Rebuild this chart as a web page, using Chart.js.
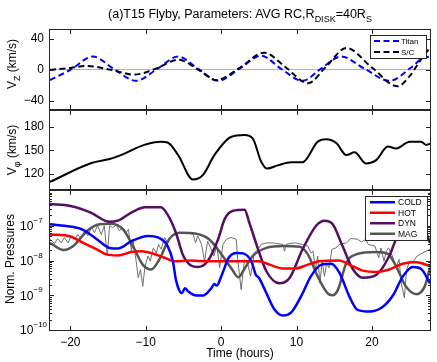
<!DOCTYPE html>
<html>
<head>
<meta charset="utf-8">
<script src="https://cdn.jsdelivr.net/npm/chart.js@4.4.1/dist/chart.umd.min.js"></script>
<style>
  body { margin: 0; background: #fff; font-family: "Liberation Sans", Arial, sans-serif; }
  #wrap { position: relative; width: 437px; height: 362px; overflow: hidden; }
  canvas { position: absolute; left: 0; }
  .title { position: absolute; left: 50px; top: 7px; width: 380px; text-align: center; font-size: 12.5px; line-height: 15px; white-space: nowrap; }
  .ylab { position: absolute; font-size: 12px; line-height: 14px; white-space: nowrap; transform: translate(-50%, -50%) rotate(-90deg); }
  .sb { font-size: 9px; position: relative; top: 4px; }
</style>
</head>
<body>
<div id="wrap">
  <canvas id="vz" width="437" height="110" style="top:0"></canvas>
  <canvas id="vphi" width="437" height="80" style="top:110px"></canvas>
  <canvas id="press" width="437" height="172" style="top:190px"></canvas>
  <div class="title">(a)T15 Flyby, Parameters: AVG RC,R<span class="sb">DISK</span>=40R<span class="sb">S</span></div>
  <div class="ylab" style="left:12px;top:64px">V<span class="sb">Z</span> (km/s)</div>
  <div class="ylab" style="left:12px;top:150px">V<span class="sb">φ</span> (km/s)</div>
  <div class="ylab" style="left:10px;top:259px">Norm. Pressures</div>
</div>
<script>
// tick values
const timeTicks = [-20, -10, 0, 10, 20];
const vzTicks = [-40, 0, 40];
const vphiTicks = [120, 150, 180];
const pressTicks = [1e-10, 1e-9, 1e-8, 1e-7];

// V_Z (km/s)
const titanT = [-22.7, -20.0, -17.0, -14.2, -11.3, -8.5, -5.7, -3.0, -0.4, 2.5, 5.3, 8.0, 10.8, 13.3, 15.9, 19.1, 22.3, 25.2, 26.7, 27.7];
const titanVz = [-13, 0, 17, 1, -14, 1, 17, 1, -14, 2, 18, 1, -14, 2, 17, 1, -14, 3, 15, 17];
const scT = [-22.7, -20.0, -17.7, -14.6, -11.5, -8.8, -5.6, -3.0, -0.6, 2.5, 5.7, 8.6, 11.5, 14.0, 16.6, 20.0, 23.4, 25.0, 26.0, 27.0, 27.7];
const scVz = [0, 2.5, 5, 0, -6, 1, 13, 0, -13, 3, 22, 3, -17, 5, 28, 3, -21, -8, 6, 20, 28];

// V_phi (km/s)
const vphiT = [-22.7, -17.2, -14.8, -13.3, -10.2, -8.0, -7.1, -5.7, -3.75, -2.4, -0.9, 1.3, 3.1, 4.2, 5.3, 6.1, 7.5, 9.3, 10.8, 12.8, 13.9, 15.3, 16.6, 17.7, 19.2, 20.6, 22.1, 23.2, 25.0, 26.5, 27.2, 27.7];
const vphi = [110, 134, 139, 144, 157, 161, 160, 144, 113, 119, 144, 167, 169.5, 165, 136, 127, 131, 135, 135, 161, 164, 159, 144, 147.5, 133.5, 138, 155, 152.5, 161, 161, 157, 158.5];

// normalised pressures
const coldT = [-22.7, -20.0, -18.3, -16.5, -14.8, -13.7, -11.9, -9.7, -8.4, -7.1, -6.4, -6.0, -5.5, -5.2, -4.8, -4.4, -3.3, -2.4, -1.3, -0.9, -0.6, 0.1, 1.0, 2.1, 2.9, 4.0, 4.6, 5.0, 6.0, 7.1, 8.2, 9.3, 10.6, 11.9, 13.3, 14.6, 15.7, 17.0, 18.1, 19.7, 21.4, 22.8, 24.1, 25.4, 26.5, 27.7];
const cold = [1.1e-7, 9.5e-8, 7.6e-8, 4.1e-8, 2.3e-8, 2.2e-8, 3.6e-8, 5.1e-8, 4.6e-8, 2.6e-8, 9.5e-9, 2.8e-9, 1.3e-9, 1.15e-9, 1.6e-9, 1.3e-9, 9.8e-10, 9.8e-10, 1.6e-9, 2.1e-9, 1.9e-9, 3.9e-9, 1.2e-8, 1.65e-8, 1.6e-8, 9.5e-9, 3.9e-9, 3.2e-9, 1.15e-9, 3.8e-10, 2.6e-10, 3.2e-10, 9.3e-10, 3.5e-9, 7.6e-9, 8.1e-9, 4.4e-9, 9.3e-10, 3.8e-10, 3.4e-10, 4.6e-10, 1.0e-9, 3.5e-9, 6.5e-9, 5.8e-9, 2.2e-9];
const hotT = [-22.7, -20.0, -18.3, -16.5, -15.2, -13.7, -11.9, -10.6, -9.3, -7.5, -6.2, -4.0, -1.8, 3.4, 5.0, 6.4, 8.2, 9.9, 11.5, 13.0, 15.7, 17.0, 18.8, 20.6, 22.3, 24.1, 25.9, 27.7];
const hot = [5.6e-8, 4.9e-8, 3.2e-8, 2.1e-8, 1.5e-8, 1.4e-8, 1.75e-8, 1.85e-8, 1.65e-8, 1.2e-8, 9.5e-9, 1.0e-8, 9.5e-9, 9.5e-9, 9.5e-9, 7.6e-9, 5.9e-9, 5.9e-9, 7.6e-9, 9.5e-9, 1.0e-8, 7.6e-9, 5.1e-9, 4.7e-9, 5.5e-9, 8.1e-9, 8.9e-9, 6.9e-9];
const dynT = [-22.7, -20.0, -17.3, -14.8, -13.7, -11.9, -10.1, -8.0, -7.1, -6.0, -5.1, -4.0, -3.1, -1.8, -0.4, 0.46, 1.57, 3.1, 3.75, 4.9, 6.0, 7.7, 9.1, 10.8, 12.6, 13.7, 14.8, 16.1, 17.5, 18.8, 20.6, 22.3, 23.2, 24.8, 26.5, 27.1, 27.7];
const dyn = [4.2e-7, 3.7e-7, 2.4e-7, 1.3e-7, 1.4e-7, 2.4e-7, 3.4e-7, 3.4e-7, 2.1e-7, 6.3e-8, 1.5e-8, 7.2e-9, 6.5e-9, 9.5e-9, 4.1e-8, 1.55e-7, 2.7e-7, 2.9e-7, 1.2e-7, 2.1e-8, 4.9e-9, 2.2e-9, 3.2e-9, 2.1e-8, 1.0e-7, 1.4e-7, 1.1e-7, 2.6e-8, 5.5e-9, 3.2e-9, 3.9e-9, 1.35e-8, 4.1e-8, 1.4e-7, 1.1e-7, 7e-8, 3.2e-8];
const magT = [-22.7, -20.9, -19.6, -17.8, -16.1, -14.6, -13.0, -11.7, -10.4, -9.3, -8.2, -6.9, -5.5, -3.3, -1.6, 0.2, 1.3, 2.3, 2.9, 4.2, 6.0, 8.2, 10.4, 11.5, 12.8, 14.1, 14.8, 15.5, 16.6, 17.9, 20.6, 22.1, 23.2, 24.5, 25.9, 27.0, 27.7];
const mag = [3.2e-8, 2.0e-8, 2.6e-8, 7.1e-8, 1.1e-7, 1.15e-7, 7.9e-8, 2.6e-8, 7.6e-9, 5.5e-9, 1.07e-8, 4.1e-8, 6.3e-8, 5.9e-8, 4.1e-8, 1.35e-8, 6.2e-9, 3.3e-9, 4.9e-9, 1.35e-8, 2.3e-8, 2.6e-8, 2.5e-8, 1.5e-8, 3.5e-9, 1.15e-9, 1.0e-9, 1.45e-9, 8.5e-9, 1.5e-8, 1.75e-8, 1.55e-8, 6.9e-9, 1.8e-9, 1.07e-9, 1.8e-9, 6.2e-9];
const magRawT = [-22.7, -22.1, -21.7, -21.2, -20.8, -20.3, -19.9, -19.4, -19.0, -18.6, -18.1, -17.7, -17.2, -16.8, -16.4, -15.9, -15.5, -15.1, -14.8, -14.4, -13.9, -13.5, -13.1, -12.6, -12.3, -11.9, -11.7, -11.3, -11.0, -10.7, -10.4, -10.1, -9.7, -9.4, -9.0, -8.6, -8.3, -7.96, -7.5, -7.1, -6.6, -6.0, -5.3, -4.4, -3.7, -3.4, -3.1, -2.6, -2.2, -1.8, -1.4, -0.97, -0.57, -0.2, 0.24, 0.7, 1.3, 2.0, 2.2, 2.65, 3.1, 3.5, 3.9, 4.4, 4.9, 5.3, 6.0, 6.9, 8.2, 8.4, 8.6, 9.1, 9.9, 10.8, 11.5, 11.9, 12.2, 12.5, 12.8, 13.1, 13.4, 13.7, 14.0, 14.3, 14.7, 15.2, 15.7, 16.6, 17.2, 18.1, 18.6, 19.2, 19.5, 20.4, 20.9, 21.2, 21.6, 21.9, 22.2, 22.8, 23.2, 23.6, 23.9, 24.3, 24.6, 25.0, 25.5, 26.0, 26.7, 27.7];
const magRaw = [4.1e-8, 3.1e-8, 4.3e-8, 3.2e-8, 4.6e-8, 3.2e-8, 5.1e-8, 4.1e-8, 5.6e-8, 4.1e-8, 7.1e-8, 5.1e-8, 8.9e-8, 6.3e-8, 1.0e-7, 5.6e-8, 1.0e-7, 1.35e-8, 1.0e-7, 8.9e-8, 1.05e-7, 7.1e-8, 8.9e-8, 6.3e-8, 7.9e-8, 1.9e-8, 4.1e-8, 1.07e-8, 3.2e-9, 5.5e-9, 1.8e-9, 6.9e-9, 1.35e-8, 9.5e-9, 2.3e-8, 1.65e-8, 2.9e-8, 2.1e-8, 4.6e-8, 3.2e-8, 5.1e-8, 5.6e-8, 6.3e-8, 6.3e-8, 5.6e-8, 3.2e-8, 5.1e-8, 2.9e-8, 9.5e-9, 3.6e-8, 2.3e-8, 1.35e-8, 2.6e-8, 6.2e-9, 2.9e-8, 4.1e-8, 4.6e-8, 4.1e-8, 1.05e-8, 1.45e-9, 1.07e-8, 8.5e-9, 3.5e-9, 1.65e-8, 2.1e-8, 2.9e-8, 3.2e-8, 3.2e-8, 2.9e-8, 1.85e-8, 2.9e-8, 3.1e-8, 3.2e-8, 2.9e-8, 2.6e-8, 1.65e-8, 1.85e-8, 5.5e-9, 1.35e-8, 2.2e-9, 9.5e-9, 3.5e-9, 8.5e-9, 6.2e-9, 2.1e-8, 2.3e-8, 2.9e-8, 3.2e-8, 4.3e-8, 4.1e-8, 3.4e-8, 4.1e-8, 2.9e-8, 2.6e-8, 1.2e-8, 2.3e-8, 9.5e-9, 1.85e-8, 2.3e-8, 1.2e-8, 6.2e-9, 1.07e-8, 2.2e-9, 8.3e-10, 5.5e-9, 9.5e-9, 9.5e-9, 1.35e-8, 1.65e-8, 2.1e-8];

const font = '"Liberation Sans", Arial, Helvetica, sans-serif';
Chart.defaults.font.family = font;
Chart.defaults.color = '#000';

const xy = (t, v) => t.map((x, i) => ({ x, y: v[i] }));
const fmt = v => (v < 0 ? '\u2212' + (-v) : String(v));
const noPad = s => { s.paddingTop = 0; s.paddingBottom = 0; s.paddingLeft = 0; s.paddingRight = 0; };

// matlab style box with inward ticks
const frame = {
  id: 'frame',
  afterDraw(chart) {
    const { ctx, chartArea: a, scales } = chart;
    ctx.save();
    ctx.strokeStyle = '#262626';
    ctx.lineWidth = 1;
    ctx.strokeRect(a.left - 0.5, a.top - 0.5, a.width + 1, a.height + 1);
    ctx.beginPath();
    scales.x.ticks.forEach(t => {
      const x = Math.round(scales.x.getPixelForValue(t.value)) + 0.5;
      ctx.moveTo(x, a.top); ctx.lineTo(x, a.top + 4);
      ctx.moveTo(x, a.bottom); ctx.lineTo(x, a.bottom - 4);
    });
    const y = scales.y;
    y.ticks.forEach(t => {
      const py = Math.round(y.getPixelForValue(t.value)) + 0.5;
      ctx.moveTo(a.left, py); ctx.lineTo(a.left + 4, py);
      ctx.moveTo(a.right, py); ctx.lineTo(a.right - 4, py);
      if (y.type === 'logarithmic') {
        for (let k = 2; k <= 9; k++) {
          const my = Math.round(y.getPixelForValue(k * t.value)) + 0.5;
          ctx.moveTo(a.left, my); ctx.lineTo(a.left + 2, my);
          ctx.moveTo(a.right, my); ctx.lineTo(a.right - 2, my);
        }
      }
    });
    ctx.stroke();
    ctx.restore();
  }
};

// legend box inside the plot
const boxLegend = {
  id: 'boxLegend',
  afterDraw(chart, args, o) {
    if (!o.show) return;
    const { ctx, chartArea: a } = chart;
    const items = chart.data.datasets.filter(d => !d.noLegend);
    const h = o.rowH * items.length + o.padY * 2;
    const x0 = Math.round(a.right - o.right - o.width), y0 = Math.round(a.top + o.top);
    ctx.save();
    ctx.fillStyle = '#fff';
    ctx.fillRect(x0, y0, o.width, h);
    ctx.strokeStyle = '#262626';
    ctx.lineWidth = 1;
    ctx.strokeRect(x0 + 0.5, y0 + 0.5, o.width, h);
    ctx.font = o.font + 'px ' + font;
    ctx.textBaseline = 'middle';
    items.forEach((d, i) => {
      const ly = y0 + o.padY + o.rowH * (i + 0.5);
      ctx.strokeStyle = d.borderColor;
      ctx.lineWidth = d.borderWidth;
      ctx.setLineDash(d.borderDash || []);
      ctx.beginPath();
      ctx.moveTo(x0 + o.lineX, ly);
      ctx.lineTo(x0 + o.lineX + o.lineLen, ly);
      ctx.stroke();
      ctx.setLineDash([]);
      ctx.fillStyle = '#000';
      ctx.fillText(d.label, x0 + o.textX, ly + 0.5);
    });
    ctx.restore();
  }
};

// 10^n labels for the log axis
const expLabels = {
  id: 'expLabels',
  afterDraw(chart, args, o) {
    if (!o.on) return;
    const { ctx } = chart;
    const y = chart.scales.y;
    ctx.save();
    ctx.fillStyle = '#000';
    ctx.textBaseline = 'middle';
    y.ticks.forEach(t => {
      const py = y.getPixelForValue(t.value);
      const e = Math.round(Math.log10(t.value));
      ctx.font = '12px ' + font;
      ctx.fillText('10', 20, py + 1);
      ctx.font = '8px ' + font;
      ctx.fillText(fmt(e), 33.5, py - 5);
    });
    ctx.restore();
  }
};

function timeAxis(labels) {
  return {
    type: 'linear', min: -22.7, max: 27.7,
    afterBuildTicks: s => { s.ticks = timeTicks.map(v => ({ value: v })); },
    grid: { display: false, drawTicks: false },
    border: { display: false },
    ticks: { display: labels, autoSkip: false, maxRotation: 0, padding: 5, font: { size: 12 }, callback: fmt },
    title: { display: labels, text: 'Time (hours)', font: { size: 12 }, padding: { top: 0, bottom: 1 } },
    afterFit: s => { s.height = labels ? 32 : 0; noPad(s); }
  };
}

function valueAxis(min, max, ticks, extra) {
  return Object.assign({
    min, max,
    afterBuildTicks: s => { s.ticks = ticks.map(v => ({ value: v })); },
    grid: { display: false, drawTicks: false },
    border: { display: false },
    ticks: { padding: 6, font: { size: 12 }, callback: fmt },
    afterFit: s => { s.width = 50; noPad(s); }
  }, extra);
}

function baseOptions(pad, x, y, legend, logLabels) {
  return {
    responsive: false,
    animation: false,
    layout: { padding: pad },
    elements: { point: { radius: 0 } },
    scales: { x, y },
    plugins: {
      legend: { display: false },
      tooltip: { enabled: false },
      boxLegend: legend || { show: false },
      expLabels: { on: !!logLabels }
    }
  };
}

const smooth = { cubicInterpolationMode: 'monotone', fill: false, pointRadius: 0 };

new Chart(document.getElementById('vz'), {
  type: 'line',
  data: {
    datasets: [
      Object.assign({ label: 'Titan', data: xy(titanT, titanVz), borderColor: '#0000ff', borderWidth: 2, borderDash: [6, 3.5], order: 1 }, smooth),
      Object.assign({ label: 'S/C', data: xy(scT, scVz), borderColor: '#000022', borderWidth: 2, borderDash: [6, 3.5], order: 0 }, smooth)
    ]
  },
  options: baseOptions({ top: 30, bottom: 1, left: 0, right: 7 }, timeAxis(false),
    valueAxis(-50, 51, vzTicks, {
      grid: { drawTicks: false, lineWidth: 1, color: c => (c.tick && c.tick.value === 0 ? '#b4b4b4' : 'rgba(0,0,0,0)') }
    }),
    { show: true, right: 4, top: 5, width: 56, rowH: 11, padY: 0.5, lineX: 4, lineLen: 25, textX: 31, font: 8 }),
  plugins: [frame, boxLegend, expLabels]
});

new Chart(document.getElementById('vphi'), {
  type: 'line',
  data: {
    datasets: [
      Object.assign({ label: 'Vphi', data: xy(vphiT, vphi), borderColor: '#000', borderWidth: 2, noLegend: true }, smooth)
    ]
  },
  options: baseOptions({ top: 1, bottom: 1, left: 0, right: 7 }, timeAxis(false), valueAxis(101, 200, vphiTicks)),
  plugins: [frame, boxLegend, expLabels]
});

new Chart(document.getElementById('press'), {
  type: 'line',
  data: {
    datasets: [
      Object.assign({ label: 'COLD', data: xy(coldT, cold), borderColor: '#0000ff', borderWidth: 2.5 }, smooth),
      Object.assign({ label: 'HOT', data: xy(hotT, hot), borderColor: '#ff0000', borderWidth: 2.5 }, smooth),
      Object.assign({ label: 'DYN', data: xy(dynT, dyn), borderColor: '#550e63', borderWidth: 2.5 }, smooth),
      Object.assign({ label: 'MAG', data: xy(magT, mag), borderColor: '#555555', borderWidth: 2.5 }, smooth),
      { label: 'MAG data', data: xy(magRawT, magRaw), borderColor: '#6e6e6e', borderWidth: 1, tension: 0, pointRadius: 0, noLegend: true }
    ]
  },
  options: baseOptions({ top: 1, bottom: 0, left: 0, right: 7 }, timeAxis(true),
    valueAxis(1e-10, 1e-6, pressTicks, { type: 'logarithmic', ticks: { display: false } }),
    { show: true, right: 3, top: 5, width: 62, rowH: 10.5, padY: 1, lineX: 5, lineLen: 25, textX: 33, font: 8.5 }, true),
  plugins: [frame, boxLegend, expLabels]
});
</script>
</body>
</html>
